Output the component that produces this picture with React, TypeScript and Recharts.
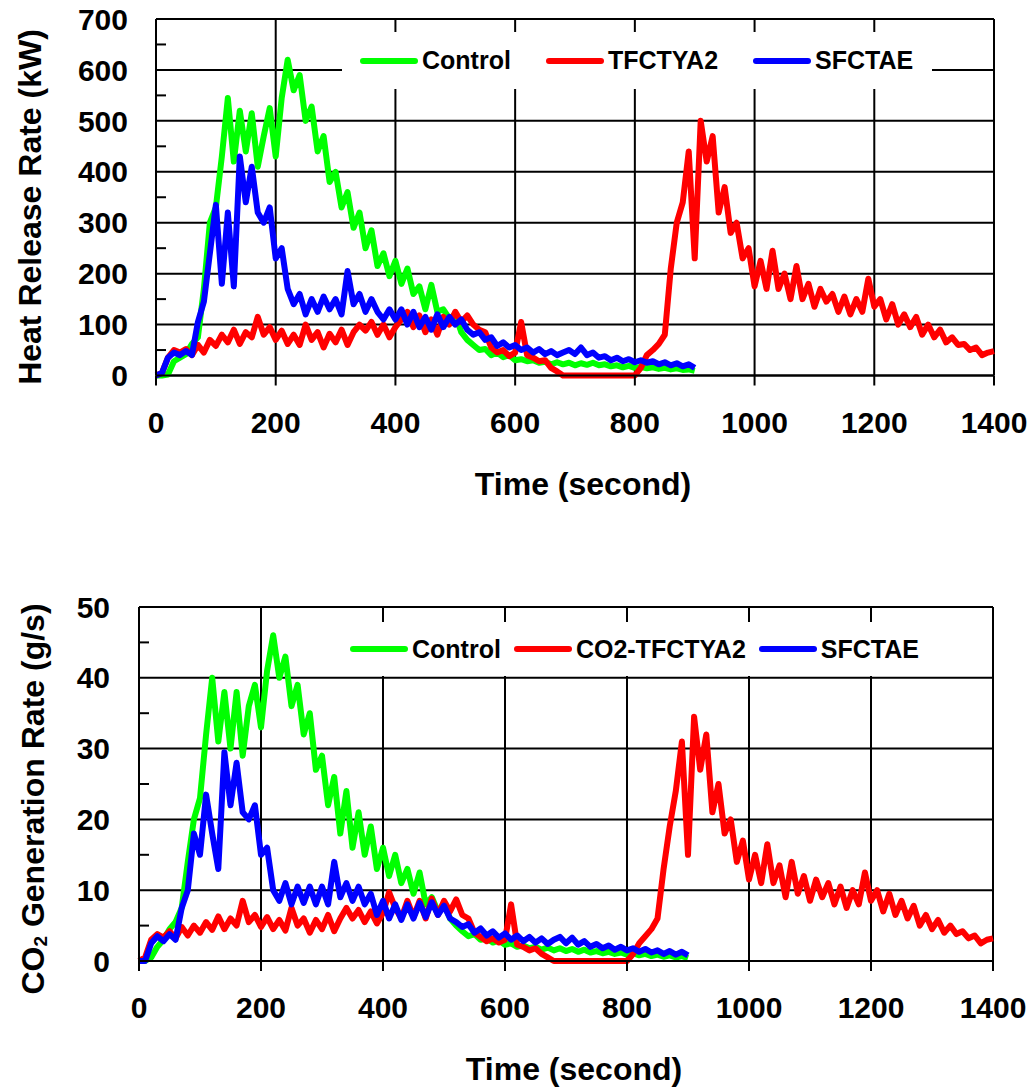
import React from 'react';
import { LineChart, Line, XAxis, YAxis, CartesianGrid, Legend } from 'recharts';

const FONT = '"Liberation Sans", Arial, Helvetica, sans-serif';
const GREEN = '#00ff00';
const RED = '#ff0000';
const BLUE = '#0000ff';

// sampling grid of the cone calorimeter runs (s)
const timeSec = Array.from({ length: 141 }, (_, i) => i * 10);
const timeTicks = [0, 200, 400, 600, 800, 1000, 1200, 1400];

const hrrTicks = [0, 50, 100, 150, 200, 250, 300, 350, 400, 450, 500, 550, 600, 650, 700];
const hrrGrid = [0, 100, 200, 300, 400, 500, 600, 700];
const co2Ticks = [0, 5, 10, 15, 20, 25, 30, 35, 40, 45, 50];
const co2Grid = [0, 10, 20, 30, 40, 50];

// heat release rate (kW), 10 s steps
const hrrControl = [
  0, 0, 2, 28, 35, 42, 62, 75, 170, 300,
  330, 430, 545, 420, 520, 440, 515, 410, 470, 525,
  430, 545, 620, 560, 590, 500, 528, 440, 470, 380,
  400, 330, 360, 290, 320, 250, 285, 215, 240, 195,
  225, 180, 210, 160, 175, 130, 178, 125, 130, 112,
  120, 85, 70, 60, 50, 52, 40, 45, 36, 40,
  30, 32, 28, 30, 25, 27, 22, 26, 22, 25,
  20, 24, 21, 25, 20, 22, 18, 20, 16, 19,
  15, 17, 14, 16, 13, 15, 12, 14, 11, 12,
  9,
];
const hrrTfctya2 = [
  0, 5, 35, 50, 45, 52, 40, 60, 45, 70,
  58, 80, 65, 90, 62, 85, 75, 115, 80, 95,
  70, 88, 62, 80, 60, 100, 70, 85, 55, 82,
  65, 90, 60, 85, 100, 88, 105, 80, 100, 75,
  95, 110, 125, 95, 118, 85, 110, 80, 115, 100,
  125, 105, 118, 100, 90, 85, 55, 45, 50, 38,
  45, 105, 40, 35, 28, 30, 15, 8,
  0, 0, 0, 0, 0, 0, 0, 0, 0, 0, 0, 0, 0,
  15, 40, 50, 62, 80, 210, 300, 340, 440,
  230, 500, 420, 470, 320, 370, 280, 300, 230, 250,
  175, 225, 170, 245, 170, 200, 150, 215, 150, 180,
  135, 170, 145, 160, 125, 155, 120, 150, 125, 190,
  135, 150, 110, 140, 100, 120, 95, 115, 80, 100,
  75, 90, 65, 75, 60, 62, 50, 55, 40, 45,
  48,
];
const hrrSfctae = [
  0, 5, 35, 45, 40, 48, 40, 105, 145, 240,
  335, 180, 320, 175, 430, 340, 410, 320, 300, 330,
  230, 250, 170, 140, 160, 120, 150, 125, 155, 130,
  150, 120, 205, 140, 160, 125, 150, 125, 110, 130,
  110, 130, 100, 125, 95, 115, 90, 120, 95, 115,
  100, 110, 90, 80, 85, 70, 75, 58, 65, 55,
  60, 50, 55, 45, 52, 42, 48, 40, 45, 50,
  42, 55, 40, 45, 35, 38, 30, 35, 28, 32,
  26, 30, 25, 28, 22, 26, 20, 24, 18, 22,
  15,
];

// CO2 generation rate (g/s), 10 s steps
const co2Control = [
  0, 0, 0.5, 2, 3, 4.5, 5.5, 7.5, 14, 20,
  23, 32, 40, 31, 38, 30, 38, 29, 36, 39,
  33, 41, 46, 40, 43, 36, 39, 32, 35, 27,
  29, 22, 26, 18, 24, 16, 21, 15, 19, 13,
  16, 12, 15, 11, 13, 9.5, 12.5, 8, 9, 7,
  8, 6, 5, 4.2, 3.5, 3.8, 3, 3.2, 2.6, 2.9,
  2.3, 2.5, 2, 2.2, 1.8, 2, 1.6, 1.9, 1.5, 1.8,
  1.4, 1.7, 1.3, 1.6, 1.2, 1.4, 1.1, 1.3, 1, 1.2,
  0.9, 1.1, 0.8, 1, 0.7, 0.9, 0.6, 0.8, 0.5, 0.7,
  0.4,
];
const co2Tfctya2 = [
  0, 0.5, 3, 3.8, 3.3, 4.2, 3.2, 4.8, 3.6, 5,
  4, 5.5, 4.4, 6.3, 4.5, 6, 5, 8.5, 5.5, 6.5,
  4.8, 6.2, 4.5, 5.8, 4.3, 7.5, 5, 6, 4, 5.8,
  4.5, 6.5, 4.2, 6, 7.5, 6, 7.2, 5.5, 7, 5.3,
  6.8, 9.7, 7.5, 6, 8.5, 6.2, 8.5, 6, 8.8, 6.5,
  8.5, 7, 8.7, 6.5, 6, 4, 3.4, 2.8, 3.2, 2.6,
  3, 8, 2.3, 2, 1.5, 1.8, 1, 0.5,
  0, 0, 0, 0, 0, 0, 0, 0, 0, 0, 0, 0, 0,
  1, 2.5, 3.5, 4.5, 6, 13, 19, 24, 31,
  15, 34.5, 27, 32, 21, 25, 18, 20, 14, 17,
  11.5, 15, 11, 16.5, 11, 13.5, 9, 14, 9.5, 12,
  8.5, 11.5, 9, 11, 8, 10.5, 7.5, 10, 8, 12.5,
  8.5, 10, 7, 9.5, 6.5, 8.5, 6, 7.8, 5, 6.5,
  4.5, 5.8, 4, 5, 3.8, 4.2, 3.2, 3.6, 2.5, 3,
  3.2,
];
const co2Sfctae = [
  0, 0, 2.5, 3.5, 2.8, 3.8, 3, 7.5, 10, 18,
  15, 23.5, 18, 13, 29.5, 22, 28, 21, 20, 22,
  15, 16, 10, 8.5, 11, 8, 10.5, 8.2, 10.5, 8,
  10.5, 8, 14, 9, 11, 8.5, 10.5, 8, 9.5, 6.5,
  8.5, 6, 8, 5.8, 8, 6, 8.2, 6.2, 8.3, 6.5,
  7.8, 6, 5.5, 4.8, 5.2, 4, 4.6, 3.6, 4.2, 3.3,
  3.9, 3, 3.6, 2.8, 3.4, 2.6, 3.2, 2.4, 3, 3.4,
  2.5, 3.3, 2.3, 2.8, 2, 2.4, 1.8, 2.2, 1.6, 2,
  1.5, 1.8, 1.3, 1.7, 1.2, 1.5, 1, 1.4, 0.9, 1.3,
  0.8,
];

function buildRows(control: number[], tfc: number[], sfc: number[]) {
  return timeSec.map((t, i) => ({
    t,
    control: control[i] ?? null,
    tfc: tfc[i] ?? null,
    sfc: sfc[i] ?? null,
  }));
}

function legendContent(names: string[], pad: number, gap: number) {
  return ({ payload }: any) => {
    // keep the series order instead of the legend's alphabetical sort
    const items = [...(payload || [])].sort((a: any, b: any) => names.indexOf(a.value) - names.indexOf(b.value));
    return (
      <div style={{
        display: 'flex', alignItems: 'center', height: '100%', paddingLeft: pad,
        fontFamily: FONT, fontWeight: 'bold', fontSize: 25, color: '#000', whiteSpace: 'nowrap',
      }}>
        {items.map((e: any, i: number) => (
          <div key={i} style={{ display: 'flex', alignItems: 'center', marginRight: gap }}>
            <span style={{ display: 'inline-block', width: 58, height: 6, borderRadius: 3, background: e.color, marginRight: 4 }} />
            <span>{e.value}</span>
          </div>
        ))}
      </div>
    );
  };
}

interface PanelProps {
  top: number;
  height: number;
  rows: ReturnType<typeof buildRows>;
  yMax: number;
  yTicks: number[];
  yGrid: number[];
  yStep: number;
  yWidth: number;
  yTickMargin: number;
  marginTop: number;
  marginRight: number;
  xAxisHeight: number;
  yTitle: React.ReactNode;
  titleX: number;
  titleY: number;
  names: string[];
  legendTop: number;
  legendHeight: number;
  legendPad: number;
  legendGap: number;
}

function Panel(p: PanelProps) {
  const yTick = (props: any) => {
    const v = props.payload.value;
    const axisX = props.x + p.yTickMargin;
    if (v % p.yStep !== 0) {
      return <line x1={axisX} x2={axisX + 10} y1={props.y} y2={props.y} stroke="#000" strokeWidth={2} />;
    }
    return (
      <text x={props.x} y={props.y} dy="0.355em" textAnchor="end" fontFamily={FONT} fontWeight="bold" fontSize={30} fill="#000">
        {v}
      </text>
    );
  };

  return (
    <div style={{ position: 'absolute', left: 0, top: p.top }}>
      <LineChart width={1034} height={p.height} data={p.rows}
        margin={{ top: p.marginTop, right: p.marginRight, bottom: 0, left: 0 }}>
        <CartesianGrid stroke="#000" strokeWidth={2} horizontalValues={p.yGrid} verticalValues={timeTicks} />
        <XAxis
          dataKey="t" type="number" domain={[0, 1400]} ticks={timeTicks} interval={0}
          height={p.xAxisHeight} stroke="#000" strokeWidth={2} tickSize={10} tickMargin={26}
          tick={{ fontFamily: FONT, fontWeight: 'bold', fontSize: 30, fill: '#000' }}
          label={(lp: any) => {
            const vb = lp.viewBox;
            return (
              <text x={vb.x + vb.width / 2 + 8} y={vb.y + 119} textAnchor="middle"
                fontFamily={FONT} fontWeight="bold" fontSize={32} fill="#000">
                Time (second)
              </text>
            );
          }}
        />
        <YAxis
          type="number" domain={[0, p.yMax]} ticks={p.yTicks} interval={0}
          width={p.yWidth} stroke="#000" strokeWidth={2} tickLine={false} tickSize={0} tickMargin={p.yTickMargin}
          tick={yTick}
          label={() => (
            <text x={p.titleX} y={p.titleY} textAnchor="middle" transform={`rotate(-90, ${p.titleX}, ${p.titleY})`}
              fontFamily={FONT} fontWeight="bold" fontSize={32} fill="#000">
              {p.yTitle}
            </text>
          )}
        />
        <Legend
          verticalAlign="middle" align="center" layout="horizontal"
          wrapperStyle={{ left: 342, top: p.legendTop, width: 590, height: p.legendHeight, background: '#fff' }}
          content={legendContent(p.names, p.legendPad, p.legendGap)}
        />
        <Line type="linear" dataKey="control" name={p.names[0]} stroke={GREEN} strokeWidth={6}
          strokeLinejoin="round" dot={false} activeDot={false} isAnimationActive={false} />
        <Line type="linear" dataKey="tfc" name={p.names[1]} stroke={RED} strokeWidth={6}
          strokeLinejoin="round" dot={false} activeDot={false} isAnimationActive={false} />
        <Line type="linear" dataKey="sfc" name={p.names[2]} stroke={BLUE} strokeWidth={6}
          strokeLinejoin="round" dot={false} activeDot={false} isAnimationActive={false} />
      </LineChart>
    </div>
  );
}

export default function App() {
  const hrrRows = buildRows(hrrControl, hrrTfctya2, hrrSfctae);
  const co2Rows = buildRows(co2Control, co2Tfctya2, co2Sfctae);

  return (
    <div style={{ position: 'absolute', left: 0, top: 0, width: 1034, height: 1087, background: '#fff' }}>
      <Panel
        top={0} height={520} rows={hrrRows}
        yMax={700} yTicks={hrrTicks} yGrid={hrrGrid} yStep={100}
        yWidth={156} yTickMargin={28} marginTop={19} marginRight={40} xAxisHeight={144.5}
        yTitle="Heat Release Rate (kW)" titleX={41} titleY={207}
        names={['Control', 'TFCTYA2', 'SFCTAE']}
        legendTop={32} legendHeight={57} legendPad={18} legendGap={35}
      />
      <Panel
        top={590} height={497} rows={co2Rows}
        yMax={50} yTicks={co2Ticks} yGrid={co2Grid} yStep={10}
        yWidth={139} yTickMargin={29} marginTop={17} marginRight={41} xAxisHeight={126}
        yTitle={<>CO<tspan fontSize={19} dy={3}>2</tspan><tspan dy={-3}> Generation Rate (g/s)</tspan></>}
        titleX={44} titleY={209}
        names={['Control', 'CO2-TFCTYA2', 'SFCTAE']}
        legendTop={32} legendHeight={54} legendPad={8} legendGap={13}
      />
    </div>
  );
}
